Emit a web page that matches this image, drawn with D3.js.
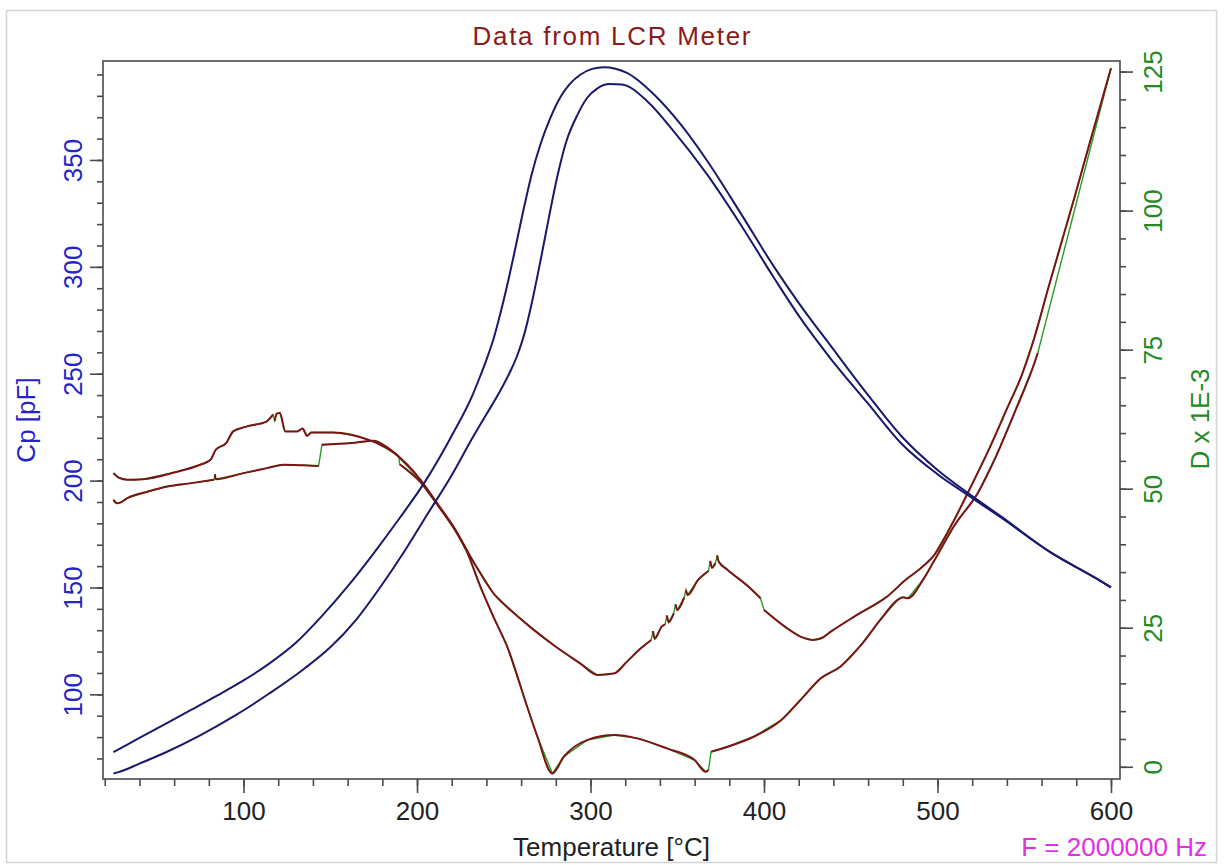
<!DOCTYPE html>
<html>
<head>
<meta charset="utf-8">
<script src="https://cdn.jsdelivr.net/npm/d3@7"></script>
<style>
  body { margin: 0; background: #fff; }
  svg text { font-family: "Liberation Sans", Arial, sans-serif; }
</style>
</head>
<body>
<div id="chart"></div>
<script>
// Cp curves [temperature, pF]
var cpUpper = [[25,73],[40,79.6],[55,86.2],[70,92.8],[85,99.5],[100,106.5],[115,114.5],[130,124],[145,136.5],[160,150.5],[175,166],[190,182.5],[205,200],[220,221],[232,240],[236,248],[240,256.5],[244,266],[248,278],[253,295],[257,310],[261.6,327.5],[266,343],[271.2,357.5],[276.5,369],[282.7,379.5],[288,385.5],[294.3,390],[301,392.6],[307.7,393.4],[321,390.7],[336.6,380.6],[352,366.6],[367.4,349.4],[386.6,325],[405.8,300],[421,282],[438.5,263],[460,240],[479,221],[500,205],[517,194.5],[537,183],[565,166.5],[592,154],[600,150]];
var cpLower = [[25,63],[28,63.6],[40,67.6],[55,72.8],[75,80.8],[95,90],[115,100.5],[135,112],[150,122],[165,135],[180,151.5],[192,166],[205,183],[220,202.5],[232,220],[240,231],[248,242],[254,251.5],[258,259],[262,269],[266,282.5],[271.2,303],[276,323],[280.8,342],[286,358.5],[292.4,371],[298,379],[304,383.5],[311,385.5],[318,385.3],[332.8,377.4],[348,363.4],[367.4,343],[386.6,319.7],[405.8,294.8],[421,276],[438.5,257],[460,236],[479,217.5],[500,203],[517,193.5],[537,182.5],[565,166.5],[592,154],[600,150]];

// D x 1E-3 curves [temperature, D]
var dUpper = [[25,52.8],[28,52],[33,51.6],[42,51.7],[60,52.9],[75,54.3],[81,55.2],[84,57],[90,58.2],[94,60.3],[102,61.2],[113,62],[117,63.3],[118,62.2],[119,63.5],[121,63.6],[124,60.3],[131,60.3],[134,60.8],[136.7,59.5],[139,60.1],[152,60.1],[162,59.7],[171,58.9],[177,58.2],[187,56.4],[202,51.6],[212,47.2],[221,43.2],[233,36.6],[244,31.2],[256,27.6],[265,25.2],[279,21.8],[294,18.6],[304,16.5],[314,16.8],[321,18.9],[329,21.3],[335,22.8],[336,24.4],[337,23],[341,25.2],[343,25.6],[344,27.2],[345,26],[348,27.6],[349,29.2],[350,28.2],[354,30.4],[355,31.8],[356,30.9],[362,33.6],[368,35.2],[369,37],[370,35.8],[372,36.6],[373,38],[374,36.8],[379,35.4],[391,32.4],[398,30.3],[400,28.2],[412,25.2],[421,23.4],[428,22.8],[433,23.1],[438.5,24.3],[452,27],[471,30.6],[482,33.7],[490,35.6],[498,38],[509,44],[519.3,50.4],[530,57.3],[540.5,64.7],[548.2,70.1],[555.7,77],[563.6,85.8],[578.9,102.3],[588.6,113.1],[600,125.6]];
var dLower = [[25,48],[27,47.4],[29,47.5],[33,48.3],[45,49.5],[56,50.4],[70,51],[83,51.6],[83.5,52.6],[84,51.7],[100,52.8],[113.5,53.7],[123,54.3],[135,54.2],[143.3,54.1],[145.2,57.9],[162,58.2],[175,58.6],[182,57.6],[189.5,55.8],[190,54.4],[202,51.2],[212,47],[222,42.5],[229,38.5],[236.5,32.4],[244,27],[252,21.6],[263.5,10.8],[269.3,5.5],[278,-1.2],[284.6,1.8],[298,4.8],[313.7,5.7],[327,5.1],[344,3.3],[360,1.2],[366.4,-0.9],[368,-0.6],[369.5,2.7],[379,3.6],[394,5.4],[410,8.4],[421,12],[432.7,15.9],[444,18],[456,21.9],[467,26.4],[477,30],[480,30.5],[483,30.3],[491.8,33.7],[498,37],[510,43.5],[523.2,49.2],[534,56],[544.3,63.6],[555.9,72.6],[557.8,74.4],[600,125.6]];

// temperatures where the next step shows only the thin green trace
var dUpperGreenAt = [117, 335, 343, 348, 354, 368, 372, 398];
var dLowerGreenAt = [83, 143.3, 189.5, 368, 557.8];

// ticks
var tempTicks = [100, 200, 300, 400, 500, 600];
var cpTicks = [100, 150, 200, 250, 300, 350];
var dTicks = [0, 25, 50, 75, 100, 125];

var width = 1226, height = 865;
var padL = 103, padR = 1120, padT = 61, padB = 779;

var svg = d3.select("#chart").append("svg")
    .attr("width", width)
    .attr("height", height);

// light outer border
svg.append("rect")
    .attr("x", 6.5).attr("y", 10.5)
    .attr("width", 1210).attr("height", 852)
    .style("fill", "none")
    .style("stroke", "#d4d4d4")
    .style("stroke-width", 1.5);

var x = d3.scaleLinear().domain([19, 605.2]).range([padL, padR]);
var yL = d3.scaleLinear().domain([60.4, 396.3]).range([padB, padT]);
var yR = d3.scaleLinear().domain([-2.2, 126.9]).range([padB, padT]);

svg.append("clipPath").attr("id", "plotClip")
    .append("rect")
    .attr("x", padL).attr("y", padT)
    .attr("width", padR - padL).attr("height", padB - padT);

var plot = svg.append("g").attr("clip-path", "url(#plotClip)");

var lineL = d3.line().curve(d3.curveMonotoneX).x(d => x(d[0])).y(d => yL(d[1]));
var lineR = d3.line().curve(d3.curveMonotoneX).x(d => x(d[0])).y(d => yR(d[1]));
var traceR = d3.line().x(d => x(d[0])).y(d => yR(d[1])); // straight trace for the green

// split a D curve into red runs, leaving the jump steps out
function redRuns(pts, jumps) {
    var runs = [], cur = [pts[0]];
    for (var i = 1; i < pts.length; i++) {
        if (jumps.indexOf(pts[i - 1][0]) >= 0) {
            runs.push(cur);
            cur = [pts[i]];
        } else {
            cur.push(pts[i]);
        }
    }
    runs.push(cur);
    return runs.filter(r => r.length > 1);
}

// D curves: green trace below, dark red on top
[dUpper, dLower].forEach(function (pts) {
    plot.append("path")
        .attr("d", traceR(pts))
        .style("fill", "none")
        .style("stroke", "#2a9a2a")
        .style("stroke-width", 1.4);
});
[[dUpper, dUpperGreenAt], [dLower, dLowerGreenAt]].forEach(function (pair) {
    plot.selectAll(null)
        .data(redRuns(pair[0], pair[1]))
        .enter()
        .append("path")
        .attr("d", lineR)
        .style("fill", "none")
        .style("stroke", "#7d1414")
        .style("stroke-width", 2)
        .style("stroke-linejoin", "round");
});

// Cp curves
[cpUpper, cpLower].forEach(function (pts) {
    plot.append("path")
        .attr("d", lineL(pts))
        .style("fill", "none")
        .style("stroke", "#18186e")
        .style("stroke-width", 2)
        .style("stroke-linejoin", "round");
});

// frame
svg.append("rect")
    .attr("x", padL).attr("y", padT)
    .attr("width", padR - padL).attr("height", padB - padT)
    .style("fill", "none")
    .style("stroke", "#4a4a4a")
    .style("stroke-width", 1.6);

function styleAxis(g, color) {
    g.select(".domain").remove();
    g.selectAll("line").style("stroke", "#4a4a4a").style("stroke-width", 1.6);
    g.selectAll("text")
        .style("font-size", "26px")
        .style("fill", color);
}

// bottom axis
var xMinor = svg.append("g").attr("transform", "translate(0," + padB + ")")
    .call(d3.axisBottom(x).tickValues(d3.range(20, 601, 20)).tickSize(7).tickFormat(""));
styleAxis(xMinor, "#222");
var xMajor = svg.append("g").attr("transform", "translate(0," + padB + ")")
    .call(d3.axisBottom(x).tickValues(tempTicks).tickSize(14).tickFormat(d3.format("d")));
styleAxis(xMajor, "#222");
xMajor.selectAll("text").attr("y", 41).attr("dy", null);

// left axis
var lMinor = svg.append("g").attr("transform", "translate(" + padL + ",0)")
    .call(d3.axisLeft(yL).tickValues(d3.range(70, 396, 10)).tickSize(6).tickFormat(""));
styleAxis(lMinor, "#2424c8");
var lMajor = svg.append("g").attr("transform", "translate(" + padL + ",0)")
    .call(d3.axisLeft(yL).tickValues(cpTicks).tickSize(13).tickFormat(d3.format("d")));
styleAxis(lMajor, "#2424c8");
lMajor.selectAll("text")
    .attr("x", null).attr("dy", null)
    .attr("text-anchor", "middle")
    .attr("transform", "translate(-21.5,0) rotate(-90)");

// right axis
var rMinor = svg.append("g").attr("transform", "translate(" + padR + ",0)")
    .call(d3.axisRight(yR).tickValues(d3.range(0, 126, 5)).tickSize(6).tickFormat(""));
styleAxis(rMinor, "#238a23");
var rMajor = svg.append("g").attr("transform", "translate(" + padR + ",0)")
    .call(d3.axisRight(yR).tickValues(dTicks).tickSize(13).tickFormat(d3.format("d")));
styleAxis(rMajor, "#238a23");
rMajor.selectAll("text")
    .attr("x", null).attr("dy", null)
    .attr("text-anchor", "middle")
    .attr("transform", "translate(41.5,0) rotate(-90)");

// titles and labels
svg.append("text")
    .attr("x", (padL + padR) / 2).attr("y", 45)
    .attr("text-anchor", "middle")
    .attr("textLength", 278)
    .attr("lengthAdjust", "spacing")
    .style("font-size", "26px")
    .style("fill", "#8b1a1a")
    .text("Data from LCR Meter");

svg.append("text")
    .attr("x", (padL + padR) / 2).attr("y", 856)
    .attr("text-anchor", "middle")
    .style("font-size", "26px")
    .style("fill", "#222")
    .text("Temperature [°C]");

svg.append("text")
    .attr("transform", "translate(35,420) rotate(-90)")
    .attr("text-anchor", "middle")
    .style("font-size", "26px")
    .style("fill", "#2424c8")
    .text("Cp [pF]");

svg.append("text")
    .attr("transform", "translate(1209,419) rotate(-90)")
    .attr("text-anchor", "middle")
    .style("font-size", "26px")
    .style("fill", "#238a23")
    .text("D x 1E-3");

svg.append("text")
    .attr("x", 1207).attr("y", 856)
    .attr("text-anchor", "end")
    .style("font-size", "26px")
    .style("fill", "#e030e0")
    .text("F = 2000000 Hz");
</script>
</body>
</html>
